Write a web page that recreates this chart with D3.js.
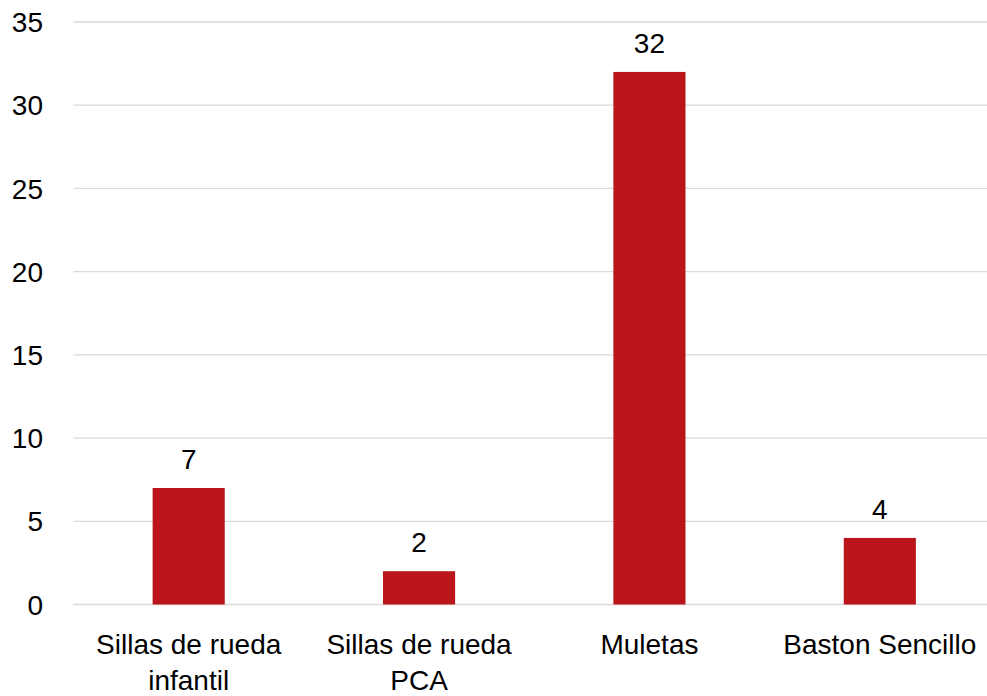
<!DOCTYPE html>
<html>
<head>
<meta charset="utf-8">
<script src="https://cdn.jsdelivr.net/npm/d3@7"></script>
<style>
  body { margin: 0; background: #fff; }
  text { font-family: "Liberation Sans", Arial, sans-serif; fill: #000; }
</style>
</head>
<body>
<div class="canvas"></div>
<script>
// data
const categories = [["Sillas de rueda", "infantil"], ["Sillas de rueda", "PCA"], ["Muletas"], ["Baston Sencillo"]];
const values = [7, 2, 32, 4];
const yTicks = [0, 5, 10, 15, 20, 25, 30, 35];

// dimensions
const w = 987;
const h = 696;
const fontSize = 28;
const margin = { top: 22, right: -8, bottom: 92, left: 73.5 };

const svg = d3.select(".canvas").append("svg").attr("width", w).attr("height", h);

const x = d3
  .scaleBand()
  .domain(d3.range(categories.length))
  .range([margin.left, w - margin.right])
  .paddingInner(0.687)
  .paddingOuter(0.3435);

const y = d3.scaleLinear().domain([0, 35]).range([h - margin.bottom + 0.5, margin.top]);

// gridlines
svg
  .append("g")
  .selectAll("line")
  .data(yTicks)
  .enter()
  .append("line")
  .attr("x1", margin.left)
  .attr("x2", w)
  .attr("y1", (d) => y(d))
  .attr("y2", (d) => y(d))
  .attr("stroke", "#d9d9d9")
  .attr("stroke-width", 1.3);

// y tick labels
svg
  .append("g")
  .selectAll("text")
  .data(yTicks)
  .enter()
  .append("text")
  .attr("x", 43)
  .attr("y", (d) => y(d))
  .attr("dy", "0.36em")
  .attr("text-anchor", "end")
  .attr("font-size", fontSize)
  .text((d) => d);

// bars
svg
  .append("g")
  .selectAll("rect")
  .data(values)
  .enter()
  .append("rect")
  .attr("x", (d, i) => x(i))
  .attr("width", x.bandwidth())
  .attr("y", (d) => y(d))
  .attr("height", (d) => y(0) - y(d))
  .attr("fill", "#b9151a");

// value labels
svg
  .append("g")
  .selectAll("text")
  .data(values)
  .enter()
  .append("text")
  .attr("x", (d, i) => x(i) + x.bandwidth() / 2)
  .attr("y", (d) => y(d) - 19)
  .attr("text-anchor", "middle")
  .attr("font-size", fontSize)
  .text((d) => d);

// category labels
const cat = svg
  .append("g")
  .selectAll("text")
  .data(categories)
  .enter()
  .append("text")
  .attr("x", (d, i) => x(i) + x.bandwidth() / 2)
  .attr("y", 654)
  .attr("text-anchor", "middle")
  .attr("font-size", fontSize);
cat
  .selectAll("tspan")
  .data((d) => d)
  .enter()
  .append("tspan")
  .attr("x", function () { return this.parentNode.getAttribute("x"); })
  .attr("dy", (d, i) => (i === 0 ? 0 : 36))
  .text((d) => d);
</script>
</body>
</html>
